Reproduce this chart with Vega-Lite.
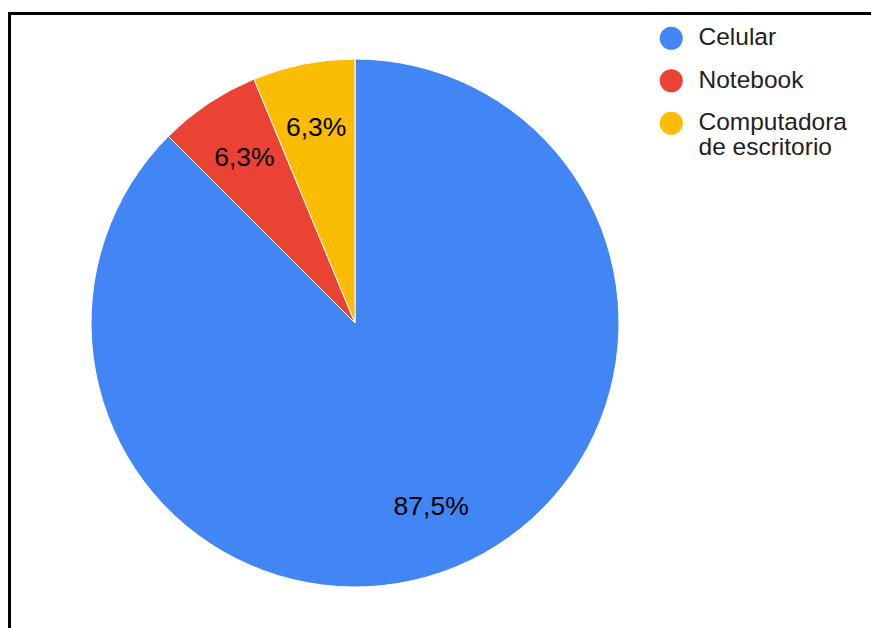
{
  "$schema": "https://vega.github.io/schema/vega-lite/v6.json",
  "autosize": {"type": "pad"},
  "padding": {"left": 9, "top": 13, "right": 0, "bottom": 0},
  "background": "white",
  "width": 692,
  "height": 620,
  "config": {
    "font": "Liberation Sans",
    "view": {"stroke": null},
    "style": {"guide-label": {"lineHeight": 24.5}}
  },
  "data": {
    "values": [
      {"dispositivo": "Celular", "valor": 14, "etiqueta": "87,5%", "n": 1},
      {"dispositivo": "Notebook", "valor": 1, "etiqueta": "6,3%", "n": 2},
      {"dispositivo": "Computadora de escritorio", "valor": 1, "etiqueta": "6,3%", "n": 3}
    ]
  },
  "layer": [
    {
      "mark": {"type": "point", "opacity": 0},
      "encoding": {
        "x": {
          "field": "n",
          "type": "quantitative",
          "scale": {"domain": [0, 10], "range": [0, 870]},
          "axis": {"orient": "top", "domainColor": "black", "domainWidth": 3, "domainCap": "square", "ticks": false, "labels": false, "grid": false, "title": null}
        },
        "y": {
          "field": "n",
          "type": "quantitative",
          "scale": {"domain": [0, 10], "range": [0, 620]},
          "axis": {"orient": "left", "domainColor": "black", "domainWidth": 3, "domainCap": "square", "ticks": false, "labels": false, "grid": false, "title": null}
        }
      }
    },
    {
      "mark": {"type": "arc", "outerRadius": 264, "stroke": "white", "strokeWidth": 1},
      "encoding": {
        "theta": {"field": "valor", "type": "quantitative", "stack": true},
        "order": {"field": "n", "type": "quantitative"},
        "color": {
          "field": "dispositivo",
          "type": "nominal",
          "sort": ["Celular", "Notebook", "Computadora de escritorio"],
          "scale": {
            "domain": ["Celular", "Notebook", "Computadora de escritorio"],
            "range": ["#4285F4", "#EA4335", "#FBBC04"]
          },
          "legend": {
            "title": null,
            "orient": "none",
            "legendX": 650,
            "legendY": 13,
            "padding": 0,
            "symbolType": "circle",
            "symbolSize": 529,
            "symbolStrokeWidth": 0,
            "labelFont": "Liberation Sans",
            "labelFontSize": 24.5,
            "labelColor": "#222222",
            "labelOffset": 15,
            "rowPadding": 17.5,
            "labelLimit": 300,
            "labelExpr": "datum.label === 'Computadora de escritorio' ? ['Computadora', 'de escritorio'] : datum.label",
            "labelBaseline": "middle",
            "encode": {"labels": {"update": {"lineHeight": {"value": 24.5}}}}
          }
        }
      }
    },
    {
      "mark": {"type": "text", "radius": 199, "font": "Liberation Sans", "fontSize": 26.5, "color": "#000000"},
      "encoding": {
        "theta": {"field": "valor", "type": "quantitative", "stack": true},
        "order": {"field": "n", "type": "quantitative"},
        "text": {"field": "etiqueta", "type": "nominal"}
      }
    }
  ]
}
